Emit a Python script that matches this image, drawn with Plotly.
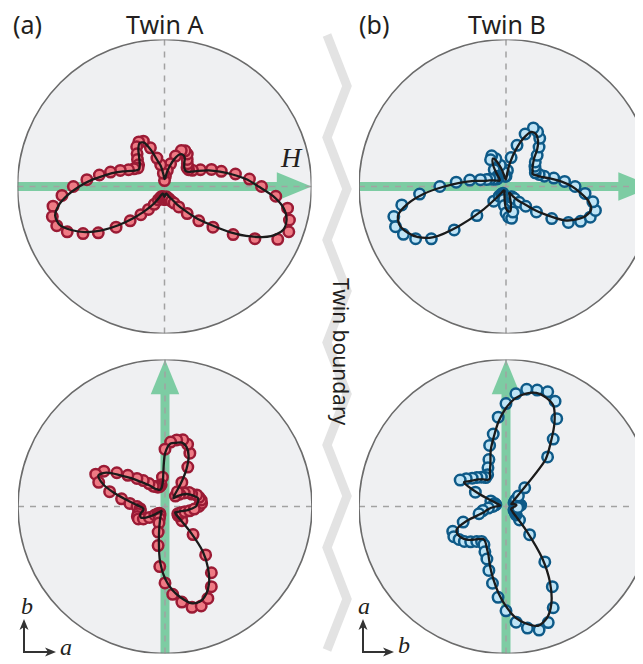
import numpy as np
import plotly.graph_objects as go

# reference canvas (pixels) and the page offset of the plot div (body margin)
REF_W, REF_H = 643, 664
OFF = 8
W, H = REF_W - OFF, REF_H - OFF
R = 147.0

# angle of each measurement (degrees, counter-clockwise from the +x direction of each panel)
angles_deg = list(range(0, 360, 5))

# ---- Twin A, upper panel (H along a) ----
fit_a_top = [0.64,0.56,0.47,0.39,0.32,0.25,0.20,0.18,0.18,0.19,0.21,0.24,0.25,0.24,0.20,0.15,0.10,0.06,0.05,0.08,
             0.14,0.18,0.26,0.33,0.34,0.31,0.27,0.24,0.22,0.21,0.22,0.25,0.30,0.36,0.42,0.50,0.58,0.66,0.73,0.77,
             0.76,0.70,0.62,0.52,0.41,0.31,0.23,0.17,0.12,0.08,0.06,0.05,0.05,0.06,0.07,0.06,0.05,0.05,0.06,0.08,
             0.10,0.15,0.21,0.30,0.40,0.54,0.68,0.80,0.86,0.86,0.82,0.74]
data_a_top = [0.66,0.58,0.49,0.40,0.34,0.27,0.22,0.20,0.20,0.22,0.24,0.27,0.28,0.27,0.22,0.16,0.11,0.07,0.04,0.09,
              0.15,0.20,0.28,0.34,0.35,0.33,0.29,0.26,0.23,0.22,0.24,0.27,0.32,0.38,0.45,0.53,0.62,0.70,0.77,0.79,
              0.78,0.73,0.64,0.55,0.43,0.33,0.25,0.19,0.14,0.10,0.08,0.07,0.07,0.08,0.09,0.08,0.07,0.08,0.09,0.11,
              0.13,0.17,0.24,0.33,0.43,0.57,0.71,0.85,0.90,0.88,0.85,0.76]

# ---- Twin B, upper panel ----
fit_b_top = [0.45,0.38,0.31,0.25,0.22,0.20,0.21,0.22,0.24,0.27,0.33,0.38,0.41,0.41,0.35,0.26,0.17,0.09,0.05,0.05,
             0.08,0.13,0.18,0.21,0.18,0.12,0.07,0.06,0.06,0.07,0.08,0.10,0.12,0.15,0.22,0.31,0.42,0.56,0.68,0.76,
             0.77,0.74,0.69,0.60,0.42,0.24,0.10,0.05,0.03,0.03,0.03,0.04,0.06,0.10,0.15,0.17,0.17,0.13,0.08,0.05,
             0.05,0.08,0.12,0.16,0.24,0.34,0.46,0.53,0.58,0.60,0.57,0.51]
data_b_top = [0.47,0.40,0.33,0.27,0.24,0.22,0.23,0.24,0.26,0.30,0.35,0.40,0.43,0.44,0.38,0.29,0.20,0.11,0.07,0.07,
              0.10,0.15,0.20,0.23,0.21,0.14,0.09,0.08,0.08,0.09,0.10,0.12,0.14,0.18,0.25,0.34,0.45,0.59,0.72,0.79,
              0.80,0.77,0.71,0.62,0.46,0.28,0.13,0.08,0.06,0.05,0.06,0.07,0.09,0.13,0.18,0.21,0.22,0.18,0.11,0.08,
              0.08,0.10,0.14,0.19,0.27,0.38,0.49,0.56,0.61,0.63,0.60,0.54]

# ---- Twin A, lower panel ----
fit_a_bot = [0.21,0.22,0.23,0.23,0.21,0.19,0.17,0.14,0.11,0.08,0.10,0.18,0.29,0.38,0.43,0.45,0.44,0.43,0.36,0.17,
             0.13,0.12,0.12,0.13,0.14,0.17,0.20,0.24,0.30,0.37,0.46,0.50,0.45,0.36,0.27,0.21,0.17,0.15,0.15,0.17,
             0.18,0.18,0.15,0.11,0.07,0.05,0.04,0.04,0.05,0.07,0.10,0.15,0.24,0.38,0.49,0.57,0.63,0.68,0.69,0.66,
             0.60,0.51,0.40,0.24,0.13,0.09,0.08,0.09,0.10,0.12,0.15,0.18]
data_a_bot = [0.23,0.25,0.25,0.24,0.23,0.20,0.19,0.16,0.13,0.10,0.13,0.20,0.31,0.40,0.45,0.47,0.46,0.44,0.39,0.20,
              0.15,0.14,0.14,0.15,0.16,0.19,0.23,0.27,0.33,0.40,0.48,0.52,0.48,0.39,0.30,0.24,0.19,0.17,0.17,0.19,
              0.20,0.20,0.17,0.13,0.09,0.07,0.06,0.06,0.07,0.09,0.12,0.18,0.27,0.41,0.52,0.60,0.66,0.71,0.72,0.69,
              0.63,0.55,0.43,0.27,0.15,0.11,0.10,0.11,0.12,0.14,0.17,0.20]

# ---- Twin B, lower panel ----
fit_b_bot = [0.06,0.07,0.07,0.06,0.05,0.04,0.05,0.06,0.08,0.15,0.42,0.53,0.66,0.76,0.79,0.80,0.78,0.74,0.67,0.58,
             0.48,0.40,0.31,0.26,0.22,0.22,0.24,0.26,0.28,0.30,0.33,0.20,0.08,0.05,0.04,0.05,0.07,0.10,0.13,0.16,
             0.28,0.37,0.38,0.37,0.35,0.32,0.29,0.27,0.28,0.31,0.35,0.42,0.50,0.59,0.68,0.76,0.81,0.84,0.81,0.73,
             0.60,0.43,0.22,0.10,0.06,0.05,0.04,0.04,0.04,0.04,0.05,0.05]
data_b_bot = [0.08,0.10,0.09,0.08,0.07,0.06,0.07,0.08,0.11,0.18,0.44,0.56,0.69,0.79,0.83,0.82,0.81,0.77,0.70,0.61,
              0.50,0.43,0.34,0.29,0.25,0.24,0.26,0.28,0.30,0.33,0.36,0.23,0.11,0.08,0.07,0.08,0.09,0.12,0.16,0.19,
              0.31,0.40,0.41,0.39,0.37,0.34,0.31,0.29,0.30,0.34,0.38,0.45,0.53,0.62,0.71,0.79,0.84,0.87,0.84,0.76,
              0.63,0.46,0.25,0.13,0.09,0.08,0.07,0.06,0.06,0.07,0.07,0.08]

RED_FILL, RED_EDGE = "#ef7a84", "#9b1b35"
BLUE_FILL, BLUE_EDGE = "#bfe4f6", "#0e5a88"
GREEN = "#7dcca3"
TXT = "#231f20"

panels = [
    dict(cx=164.5, cy=186.5, fit=fit_a_top, data=data_a_top, fill=RED_FILL, edge=RED_EDGE, arrow="h"),
    dict(cx=506.0, cy=186.5, fit=fit_b_top, data=data_b_top, fill=BLUE_FILL, edge=BLUE_EDGE, arrow="h"),
    dict(cx=165.0, cy=506.5, fit=fit_a_bot, data=data_a_bot, fill=RED_FILL, edge=RED_EDGE, arrow="v"),
    dict(cx=506.0, cy=506.5, fit=fit_b_bot, data=data_b_bot, fill=BLUE_FILL, edge=BLUE_EDGE, arrow="v"),
]


def px(x):
    return (x - OFF) / W


def py(y):
    return 1 - (y - OFF) / H


fig = go.Figure()
shapes = []
layout_axes = {}
th = np.deg2rad(np.array(angles_deg, dtype=float))

for i, p in enumerate(panels, start=1):
    xs = "x" if i == 1 else f"x{i}"
    ys = "y" if i == 1 else f"y{i}"
    left_px = p["cx"] - R
    right_px = min(REF_W, p["cx"] + R)
    xr = (right_px - p["cx"]) / R
    xdom = [px(left_px), min(1.0, px(right_px))]
    ydom = [py(p["cy"] + R), py(p["cy"] - R)]
    axname_x = "xaxis" if i == 1 else f"xaxis{i}"
    axname_y = "yaxis" if i == 1 else f"yaxis{i}"
    layout_axes[axname_x] = dict(domain=xdom, range=[-1, xr], visible=False, fixedrange=True)
    layout_axes[axname_y] = dict(domain=ydom, range=[-1, 1], visible=False, fixedrange=True)

    # background disc
    shapes.append(dict(type="circle", xref=xs, yref=ys, x0=-1, y0=-1, x1=1, y1=1,
                       fillcolor="#eff0f2", line=dict(width=0), layer="below"))
    # field arrow
    hb, hw = 0.764, 0.097
    if p["arrow"] == "h":
        shapes.append(dict(type="line", xref=xs, yref=ys, x0=-1, y0=0, x1=hb + 0.01, y1=0,
                           line=dict(color=GREEN, width=9), layer="below"))
        shapes.append(dict(type="path", xref=xs, yref=ys,
                           path=f"M {hb},{hw} L 1,0 L {hb},{-hw} Z",
                           fillcolor=GREEN, line=dict(width=0), layer="below"))
    else:
        shapes.append(dict(type="line", xref=xs, yref=ys, x0=0, y0=-1, x1=0, y1=hb + 0.01,
                           line=dict(color=GREEN, width=9), layer="below"))
        shapes.append(dict(type="path", xref=xs, yref=ys,
                           path=f"M {-hw},{hb} L 0,1 L {hw},{hb} Z",
                           fillcolor=GREEN, line=dict(width=0), layer="below"))
    # dashed cross
    shapes.append(dict(type="line", xref=xs, yref=ys, x0=-1, y0=0, x1=1, y1=0,
                       line=dict(color="#a2a2a2", width=1.5, dash="6px,6px"), layer="below"))
    shapes.append(dict(type="line", xref=xs, yref=ys, x0=0, y0=-1, x1=0, y1=1,
                       line=dict(color="#a2a2a2", width=1.5, dash="6px,6px"), layer="below"))
    # outline
    shapes.append(dict(type="circle", xref=xs, yref=ys, x0=-1, y0=-1, x1=1, y1=1,
                       line=dict(color="#6b6b6b", width=1.6), layer="below"))

    r_d = np.array(p["data"])
    fig.add_trace(go.Scatter(x=r_d * np.cos(th), y=r_d * np.sin(th), mode="markers",
                             xaxis=xs, yaxis=ys, showlegend=False, hoverinfo="skip",
                             marker=dict(size=10.5, color=p["fill"], line=dict(color=p["edge"], width=2.5))))
    r_f = np.array(p["fit"] + p["fit"][:1])
    th_f = np.append(th, th[0] + 2 * np.pi)
    fig.add_trace(go.Scatter(x=r_f * np.cos(th_f), y=r_f * np.sin(th_f), mode="lines",
                             xaxis=xs, yaxis=ys, showlegend=False, hoverinfo="skip",
                             line=dict(color="#1b1b1b", width=2.3, shape="spline", smoothing=0.8)))

# twin boundary zigzag
zig_y = [35, 86, 137.5, 189, 240, 291, 342.5, 394, 445, 496, 547.5, 599, 650]
zig_x = [327 if k % 2 == 0 else 347 for k in range(len(zig_y))]
path = "M " + " L ".join(f"{px(x):.5f},{py(y):.5f}" for x, y in zip(zig_x, zig_y))
shapes.append(dict(type="path", xref="paper", yref="paper", path=path,
                   line=dict(color="#e3e3e3", width=9), layer="below"))


# small crystal-axis arrows
def small_axes(x0, y0, lx, ly):
    out = []
    col = "#333333"
    out.append(dict(type="line", xref="paper", yref="paper", x0=px(x0), y0=py(y0), x1=px(x0), y1=py(ly + 7),
                    line=dict(color=col, width=2)))
    out.append(dict(type="line", xref="paper", yref="paper", x0=px(x0 - 1), y0=py(y0), x1=px(lx - 7), y1=py(y0),
                    line=dict(color=col, width=2)))
    out.append(dict(type="path", xref="paper", yref="paper",
                    path=f"M {px(x0)},{py(ly)} L {px(x0 + 4.5)},{py(ly + 11)} L {px(x0)},{py(ly + 8)} "
                         f"L {px(x0 - 4.5)},{py(ly + 11)} Z",
                    fillcolor=col, line=dict(width=0)))
    out.append(dict(type="path", xref="paper", yref="paper",
                    path=f"M {px(lx)},{py(y0)} L {px(lx - 11)},{py(y0 - 4.5)} L {px(lx - 8)},{py(y0)} "
                         f"L {px(lx - 11)},{py(y0 + 4.5)} Z",
                    fillcolor=col, line=dict(width=0)))
    return out


shapes += small_axes(24, 652, 56, 619)
shapes += small_axes(363, 652, 394, 619)

ann = []


def label(text, x, y, size, family="Noto Sans", angle=0, italic=False):
    t = f"<i>{text}</i>" if italic else text
    ann.append(dict(text=t, x=px(x), y=py(y), xref="paper", yref="paper", showarrow=False,
                    xanchor="center", yanchor="middle", textangle=angle, borderpad=0,
                    font=dict(family=family, size=size, color=TXT)))


label("(a)", 27, 24, 25)
label("Twin A", 164, 24, 25)
label("(b)", 374, 24, 25)
label("Twin B", 507, 24, 25)
label("H", 291, 157, 28, family="Liberation Serif", italic=True)
label("Twin boundary", 341, 352, 21, angle=90)
label("b", 27, 606, 24, family="Liberation Serif", italic=True)
label("a", 66, 647, 24, family="Liberation Serif", italic=True)
label("a", 364, 606, 24, family="Liberation Serif", italic=True)
label("b", 404, 645, 24, family="Liberation Serif", italic=True)

fig.update_layout(
    width=W, height=H, margin=dict(l=0, r=0, t=0, b=0),
    paper_bgcolor="white", plot_bgcolor="rgba(0,0,0,0)",
    shapes=shapes, annotations=ann, showlegend=False,
    **layout_axes,
)

fig.write_html("out.html")
